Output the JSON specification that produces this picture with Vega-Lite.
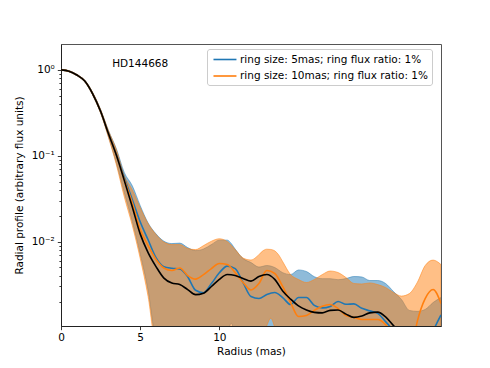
{
  "$schema": "https://vega.github.io/schema/vega-lite/v6.json",
  "width": 380,
  "height": 282,
  "autosize": {"type": "none"},
  "padding": {"left": 61, "top": 44, "right": 49, "bottom": 42},
  "background": "white",
  "config": {
    "font": "DejaVu Sans",
    "view": {"stroke": "#555", "strokeWidth": 1},
    "axis": {"domainColor": "#222", "tickColor": "#222", "labelColor": "#000", "titleColor": "#000", "labelFont": "DejaVu Sans", "titleFont": "DejaVu Sans", "labelFontSize": 10.5, "titleFontSize": 10.5, "titleFontWeight": "normal", "grid": false, "tickSize": 3.7, "labelPadding": 3, "tickWidth": 0.9, "domainWidth": 1}
  },
  "datasets": {
    "black": [
      {"x": 0, "v": 1.0}, {"x": 0.5, "v": 0.966}, {"x": 1, "v": 0.87}, {"x": 1.5, "v": 0.74}, {"x": 2, "v": 0.526}, {"x": 2.5, "v": 0.329}, {"x": 3, "v": 0.18}, {"x": 3.5, "v": 0.101}, {"x": 4, "v": 0.0513}, {"x": 4.5, "v": 0.0255}, {"x": 5, "v": 0.0123}, {"x": 5.5, "v": 0.00745}, {"x": 6, "v": 0.00512}, {"x": 6.5, "v": 0.00376}, {"x": 7, "v": 0.00329}, {"x": 7.5, "v": 0.00316}, {"x": 8, "v": 0.00276}, {"x": 8.5, "v": 0.00241}, {"x": 9, "v": 0.00251}, {"x": 9.5, "v": 0.003}, {"x": 10, "v": 0.00363}, {"x": 10.5, "v": 0.00414}, {"x": 11, "v": 0.00403}, {"x": 11.5, "v": 0.00372}, {"x": 12, "v": 0.00346}, {"x": 12.5, "v": 0.00392}, {"x": 13, "v": 0.00414}, {"x": 13.5, "v": 0.00363}, {"x": 14, "v": 0.00266}, {"x": 14.5, "v": 0.00214}, {"x": 15, "v": 0.00178}, {"x": 15.5, "v": 0.0016}, {"x": 16, "v": 0.0015}, {"x": 16.5, "v": 0.00148}, {"x": 17, "v": 0.00158}, {"x": 17.5, "v": 0.0016}, {"x": 18, "v": 0.00143}, {"x": 18.5, "v": 0.00131}, {"x": 19, "v": 0.00136}, {"x": 19.5, "v": 0.00148}, {"x": 20, "v": 0.00151}, {"x": 20.5, "v": 0.00133}, {"x": 21, "v": 0.00105}, {"x": 21.5, "v": 0.00085}, {"x": 22, "v": 0.0006}
    ],
    "lines": [
      {"x": 0, "s": "5mas", "v": 1.0}, {"x": 0.5, "s": "5mas", "v": 0.966}, {"x": 1, "s": "5mas", "v": 0.87}, {"x": 1.5, "s": "5mas", "v": 0.74}, {"x": 2, "s": "5mas", "v": 0.526}, {"x": 2.5, "s": "5mas", "v": 0.329}, {"x": 3, "s": "5mas", "v": 0.181}, {"x": 3.5, "s": "5mas", "v": 0.103}, {"x": 4, "s": "5mas", "v": 0.0555}, {"x": 4.5, "s": "5mas", "v": 0.0309}, {"x": 5, "s": "5mas", "v": 0.017}, {"x": 5.5, "s": "5mas", "v": 0.0105}, {"x": 6, "s": "5mas", "v": 0.0065}, {"x": 6.5, "s": "5mas", "v": 0.0051}, {"x": 7, "s": "5mas", "v": 0.0049}, {"x": 7.5, "s": "5mas", "v": 0.0048}, {"x": 8, "s": "5mas", "v": 0.0039}, {"x": 8.5, "s": "5mas", "v": 0.00271}, {"x": 9, "s": "5mas", "v": 0.00254}, {"x": 9.5, "s": "5mas", "v": 0.00324}, {"x": 10, "s": "5mas", "v": 0.00433}, {"x": 10.5, "s": "5mas", "v": 0.00518}, {"x": 11, "s": "5mas", "v": 0.00485}, {"x": 11.5, "s": "5mas", "v": 0.00332}, {"x": 12, "s": "5mas", "v": 0.00229}, {"x": 12.5, "s": "5mas", "v": 0.00217}, {"x": 13, "s": "5mas", "v": 0.00242}, {"x": 13.5, "s": "5mas", "v": 0.00255}, {"x": 14, "s": "5mas", "v": 0.00223}, {"x": 14.5, "s": "5mas", "v": 0.00185}, {"x": 15, "s": "5mas", "v": 0.00223}, {"x": 15.5, "s": "5mas", "v": 0.00223}, {"x": 16, "s": "5mas", "v": 0.00181}, {"x": 16.5, "s": "5mas", "v": 0.00169}, {"x": 17, "s": "5mas", "v": 0.00176}, {"x": 17.5, "s": "5mas", "v": 0.00201}, {"x": 18, "s": "5mas", "v": 0.00186}, {"x": 18.5, "s": "5mas", "v": 0.00188}, {"x": 19, "s": "5mas", "v": 0.00167}, {"x": 19.5, "s": "5mas", "v": 0.00156}, {"x": 20, "s": "5mas", "v": 0.00146}, {"x": 20.5, "s": "5mas", "v": 0.00117}, {"x": 21, "s": "5mas", "v": 0.0009}, {"x": 21.5, "s": "5mas", "v": 0.0006}, {"x": 22, "s": "5mas", "v": 0.0004}, {"x": 22.5, "s": "5mas", "v": 0.0004}, {"x": 23, "s": "5mas", "v": 0.0005}, {"x": 23.5, "s": "5mas", "v": 0.0009}, {"x": 24, "s": "5mas", "v": 0.0014},
      {"x": 0, "s": "10mas", "v": 1.0}, {"x": 0.5, "s": "10mas", "v": 0.966}, {"x": 1, "s": "10mas", "v": 0.87}, {"x": 1.5, "s": "10mas", "v": 0.74}, {"x": 2, "s": "10mas", "v": 0.526}, {"x": 2.5, "s": "10mas", "v": 0.329}, {"x": 3, "s": "10mas", "v": 0.18}, {"x": 3.5, "s": "10mas", "v": 0.102}, {"x": 4, "s": "10mas", "v": 0.0527}, {"x": 4.5, "s": "10mas", "v": 0.0284}, {"x": 5, "s": "10mas", "v": 0.0138}, {"x": 5.5, "s": "10mas", "v": 0.00898}, {"x": 6, "s": "10mas", "v": 0.00618}, {"x": 6.5, "s": "10mas", "v": 0.00492}, {"x": 7, "s": "10mas", "v": 0.0046}, {"x": 7.5, "s": "10mas", "v": 0.00492}, {"x": 8, "s": "10mas", "v": 0.00402}, {"x": 8.5, "s": "10mas", "v": 0.00366}, {"x": 9, "s": "10mas", "v": 0.00413}, {"x": 9.5, "s": "10mas", "v": 0.00485}, {"x": 10, "s": "10mas", "v": 0.00555}, {"x": 10.5, "s": "10mas", "v": 0.0054}, {"x": 11, "s": "10mas", "v": 0.00436}, {"x": 11.5, "s": "10mas", "v": 0.00334}, {"x": 12, "s": "10mas", "v": 0.00273}, {"x": 12.5, "s": "10mas", "v": 0.00325}, {"x": 13, "s": "10mas", "v": 0.0046}, {"x": 13.5, "s": "10mas", "v": 0.00425}, {"x": 14, "s": "10mas", "v": 0.003}, {"x": 14.5, "s": "10mas", "v": 0.00195}, {"x": 15, "s": "10mas", "v": 0.00134}, {"x": 15.5, "s": "10mas", "v": 0.00138}, {"x": 16, "s": "10mas", "v": 0.00158}, {"x": 16.5, "s": "10mas", "v": 0.00177}, {"x": 17, "s": "10mas", "v": 0.00185}, {"x": 17.5, "s": "10mas", "v": 0.00166}, {"x": 18, "s": "10mas", "v": 0.00138}, {"x": 18.5, "s": "10mas", "v": 0.00131}, {"x": 19, "s": "10mas", "v": 0.00124}, {"x": 19.5, "s": "10mas", "v": 0.00124}, {"x": 20, "s": "10mas", "v": 0.00124}, {"x": 20.5, "s": "10mas", "v": 0.00108}, {"x": 21, "s": "10mas", "v": 0.0008}, {"x": 21.5, "s": "10mas", "v": 0.0005}, {"x": 22, "s": "10mas", "v": 0.0004}, {"x": 22.5, "s": "10mas", "v": 0.00117}, {"x": 23, "s": "10mas", "v": 0.00217}, {"x": 23.5, "s": "10mas", "v": 0.00277}, {"x": 24, "s": "10mas", "v": 0.0019}
    ],
    "bandBlue": [
      {"x": 0, "v": 0.985, "hi": 1.015}, {"x": 0.5, "v": 0.952, "hi": 0.98}, {"x": 1, "v": 0.857, "hi": 0.883}, {"x": 1.5, "v": 0.725, "hi": 0.755}, {"x": 2, "v": 0.51, "hi": 0.545}, {"x": 2.5, "v": 0.316, "hi": 0.345}, {"x": 3, "v": 0.166, "hi": 0.196}, {"x": 3.5, "v": 0.082, "hi": 0.12}, {"x": 4, "v": 0.037, "hi": 0.0635}, {"x": 4.5, "v": 0.0172, "hi": 0.0448}, {"x": 5, "v": 0.0072, "hi": 0.0263}, {"x": 5.5, "v": 0.0027, "hi": 0.0165}, {"x": 6, "v": 0.0007, "hi": 0.0123}, {"x": 6.5, "v": 0.0005, "hi": 0.0101}, {"x": 7, "v": 0.0005, "hi": 0.00948}, {"x": 7.5, "v": 0.0005, "hi": 0.0096}, {"x": 8, "v": 0.0005, "hi": 0.00851}, {"x": 8.5, "v": 0.0005, "hi": 0.00785}, {"x": 9, "v": 0.0005, "hi": 0.0082}, {"x": 9.5, "v": 0.0005, "hi": 0.00923}, {"x": 10, "v": 0.0005, "hi": 0.0104}, {"x": 10.5, "v": 0.0008, "hi": 0.0104}, {"x": 10.75, "v": 0.00112, "hi": 0.0095}, {"x": 11, "v": 0.0008, "hi": 0.00818}, {"x": 11.5, "v": 0.0005, "hi": 0.00634}, {"x": 12, "v": 0.0005, "hi": 0.0057}, {"x": 12.5, "v": 0.0005, "hi": 0.00505}, {"x": 13, "v": 0.0005, "hi": 0.00526}, {"x": 13.5, "v": 0.0005, "hi": 0.00499}, {"x": 14, "v": 0.0005, "hi": 0.00435}, {"x": 14.5, "v": 0.0005, "hi": 0.00413}, {"x": 15, "v": 0.0005, "hi": 0.00467}, {"x": 15.5, "v": 0.0005, "hi": 0.00448}, {"x": 16, "v": 0.0005, "hi": 0.0039}, {"x": 16.5, "v": 0.0005, "hi": 0.0037}, {"x": 17, "v": 0.0005, "hi": 0.0037}, {"x": 17.5, "v": 0.0005, "hi": 0.0036}, {"x": 18, "v": 0.0005, "hi": 0.00371}, {"x": 18.5, "v": 0.0005, "hi": 0.00392}, {"x": 19, "v": 0.0005, "hi": 0.00387}, {"x": 19.5, "v": 0.0005, "hi": 0.00352}, {"x": 20, "v": 0.0005, "hi": 0.00352}, {"x": 20.5, "v": 0.0005, "hi": 0.00325}, {"x": 21, "v": 0.0005, "hi": 0.00262}, {"x": 21.5, "v": 0.0005, "hi": 0.00212}, {"x": 22, "v": 0.0005, "hi": 0.00158}, {"x": 22.5, "v": 0.0005, "hi": 0.00154}, {"x": 23, "v": 0.0005, "hi": 0.00162}, {"x": 23.5, "v": 0.0005, "hi": 0.00195}, {"x": 24, "v": 0.0005, "hi": 0.00223}
    ],
    "bandOrange": [
      {"x": 0, "v": 0.985, "hi": 1.015}, {"x": 0.5, "v": 0.952, "hi": 0.98}, {"x": 1, "v": 0.857, "hi": 0.883}, {"x": 1.5, "v": 0.725, "hi": 0.755}, {"x": 2, "v": 0.51, "hi": 0.545}, {"x": 2.5, "v": 0.314, "hi": 0.345}, {"x": 3, "v": 0.163, "hi": 0.195}, {"x": 3.5, "v": 0.078, "hi": 0.117}, {"x": 4, "v": 0.033, "hi": 0.0585}, {"x": 4.5, "v": 0.0155, "hi": 0.0402}, {"x": 5, "v": 0.0064, "hi": 0.0249}, {"x": 5.5, "v": 0.0023, "hi": 0.0162}, {"x": 6, "v": 0.0006, "hi": 0.0121}, {"x": 6.5, "v": 0.0005, "hi": 0.00987}, {"x": 7, "v": 0.0005, "hi": 0.00923}, {"x": 7.5, "v": 0.0005, "hi": 0.00923}, {"x": 8, "v": 0.0005, "hi": 0.0083}, {"x": 8.5, "v": 0.0005, "hi": 0.00807}, {"x": 9, "v": 0.0005, "hi": 0.00898}, {"x": 9.5, "v": 0.0005, "hi": 0.0101}, {"x": 10, "v": 0.0005, "hi": 0.0108}, {"x": 10.5, "v": 0.0005, "hi": 0.01}, {"x": 11, "v": 0.0005, "hi": 0.00807}, {"x": 11.5, "v": 0.0005, "hi": 0.00643}, {"x": 12, "v": 0.0005, "hi": 0.0061}, {"x": 12.5, "v": 0.0005, "hi": 0.00705}, {"x": 12.75, "v": 0.0008, "hi": 0.0078}, {"x": 13, "v": 0.00105, "hi": 0.00816}, {"x": 13.25, "v": 0.00128, "hi": 0.0081}, {"x": 13.5, "v": 0.001, "hi": 0.0078}, {"x": 13.75, "v": 0.0007, "hi": 0.007}, {"x": 14, "v": 0.0005, "hi": 0.00585}, {"x": 14.5, "v": 0.0005, "hi": 0.00413}, {"x": 15, "v": 0.0005, "hi": 0.00362}, {"x": 15.5, "v": 0.0005, "hi": 0.00334}, {"x": 16, "v": 0.0005, "hi": 0.00362}, {"x": 16.5, "v": 0.0005, "hi": 0.00413}, {"x": 17, "v": 0.0005, "hi": 0.00454}, {"x": 17.5, "v": 0.0005, "hi": 0.00436}, {"x": 18, "v": 0.0005, "hi": 0.00381}, {"x": 18.5, "v": 0.0005, "hi": 0.00325}, {"x": 19, "v": 0.0005, "hi": 0.00321}, {"x": 19.5, "v": 0.0005, "hi": 0.0033}, {"x": 20, "v": 0.0005, "hi": 0.00316}, {"x": 20.5, "v": 0.0005, "hi": 0.00292}, {"x": 21, "v": 0.0005, "hi": 0.00255}, {"x": 21.5, "v": 0.0005, "hi": 0.00232}, {"x": 22, "v": 0.0005, "hi": 0.00248}, {"x": 22.5, "v": 0.0005, "hi": 0.00334}, {"x": 23, "v": 0.0005, "hi": 0.00526}, {"x": 23.5, "v": 0.0005, "hi": 0.00609}, {"x": 24, "v": 0.0005, "hi": 0.0054}
    ],
    "label": [{"x": 5, "v": 1.17, "text": "HD144668"}]
  },
  "encoding": {
    "x": {"field": "x", "type": "quantitative", "scale": {"domain": [0, 24], "nice": false, "zero": false}, "axis": {"values": [0, 5, 10], "title": "Radius (mas)", "titlePadding": 3, "labelFlush": false}},
    "y": {"field": "v", "type": "quantitative", "stack": null, "scale": {"type": "log", "domain": [0.00104, 2], "nice": false}, "axis": {"title": "Radial profile (arbitrary flux units)", "titlePadding": 7, "values": [0.002, 0.003, 0.004, 0.005, 0.006, 0.007, 0.008, 0.009, 0.01, 0.02, 0.03, 0.04, 0.05, 0.06, 0.07, 0.08, 0.09, 0.1, 0.2, 0.3, 0.4, 0.5, 0.6, 0.7, 0.8, 0.9, 1], "labelExpr": "datum.value == 1 ? '10⁰' : datum.value == 0.1 ? '10⁻¹' : datum.value == 0.01 ? '10⁻²' : ''", "tickSize": {"condition": {"test": "datum.value == 1 || datum.value == 0.1 || datum.value == 0.01", "value": 3.7}, "value": 2.1}}}
  },
  "layer": [
    {
      "data": {"name": "bandBlue"},
      "mark": {"type": "area", "clip": true, "interpolate": "monotone", "color": "#1f77b4", "fillOpacity": 0.5, "stroke": "#1f77b4", "strokeOpacity": 0.5, "strokeWidth": 1},
      "encoding": {"y2": {"field": "hi"}}
    },
    {
      "data": {"name": "bandOrange"},
      "mark": {"type": "area", "clip": true, "interpolate": "monotone", "color": "#ff7f0e", "fillOpacity": 0.5, "stroke": "#ff7f0e", "strokeOpacity": 0.5, "strokeWidth": 1},
      "encoding": {"y2": {"field": "hi"}}
    },
    {
      "data": {"name": "lines"},
      "mark": {"type": "line", "clip": true, "interpolate": "monotone", "strokeWidth": 1.6},
      "encoding": {
        "color": {"field": "s", "type": "nominal", "sort": null, "scale": {"domain": ["5mas", "10mas"], "range": ["#1f77b4", "#ff7f0e"]}, "legend": {"orient": "none", "legendX": 146, "legendY": 5, "title": null, "symbolType": "M-0.7,0H3.3", "symbolSize": 132, "symbolStrokeWidth": 1.6, "labelFont": "DejaVu Sans", "labelFontSize": 10.5, "labelColor": "#000", "labelLimit": 400, "padding": 3.5, "fillColor": "rgba(255,255,255,0.8)", "strokeColor": "#cccccc", "cornerRadius": 2.5, "rowPadding": 3.5, "labelOffset": 15.5, "labelExpr": "datum.label == '5mas' ? 'ring size: 5mas; ring flux ratio: 1%' : 'ring size: 10mas; ring flux ratio: 1%'"}}
      }
    },
    {
      "data": {"name": "black"},
      "mark": {"type": "line", "clip": true, "interpolate": "monotone", "strokeWidth": 1.6, "color": "#000"}
    },
    {
      "data": {"name": "label"},
      "mark": {"type": "text", "font": "DejaVu Sans", "fontSize": 10.5, "color": "#000", "align": "center", "baseline": "middle"},
      "encoding": {"text": {"field": "text"}}
    }
  ]
}
